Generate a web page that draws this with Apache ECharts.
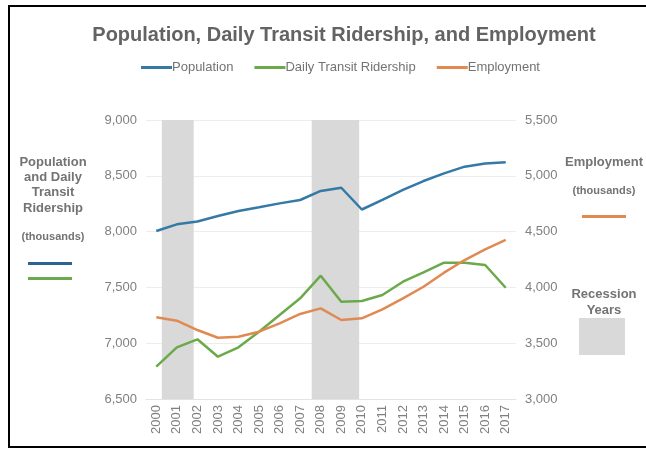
<!DOCTYPE html>
<html>
<head>
<meta charset="utf-8">
<script src="https://cdn.jsdelivr.net/npm/echarts@6/dist/echarts.min.js"></script>
<style>
html,body{margin:0;padding:0;background:#fff;}
#c{width:646px;height:449px;}
</style>
</head>
<body>
<div id="c"></div>
<script>
var years = ['2000','2001','2002','2003','2004','2005','2006','2007','2008','2009','2010','2011','2012','2013','2014','2015','2016','2017'];
var population = [8005, 8065, 8090, 8140, 8185, 8218, 8253, 8283, 8364, 8393, 8198, 8285, 8373, 8453, 8522, 8582, 8611, 8622];
var ridership = [6790, 6963, 7035, 6879, 6963, 7103, 7253, 7402, 7605, 7372, 7378, 7432, 7551, 7635, 7721, 7721, 7701, 7497];
var employment = [3732, 3702, 3618, 3549, 3558, 3603, 3678, 3762, 3812, 3708, 3723, 3803, 3902, 4006, 4132, 4245, 4341, 4425];
var recessionStart = [2000.27, 2007.56];
var recessionEnd = [2001.82, 2009.87];
var leftTicks = [6500, 9000, 500];
var rightTicks = [3000, 5500, 500];

var C_POP = '#3579a6', C_RID = '#6aaa4a', C_EMP = '#e08a52', C_BAND = '#d9d9d9';
var FONT = 'Liberation Sans';
var TXT = '#737373';
var recessions = recessionStart.map(function(s, i){ return [s, recessionEnd[i]]; });

function txt(x, y, s, size, lh){
  return {type: 'text', x: x, y: y, style: {text: s, align: 'center', verticalAlign: 'middle',
    font: 'bold ' + size + 'px "Liberation Sans"', fill: TXT, lineHeight: lh || size + 2}};
}

var chart = echarts.init(document.getElementById('c'));
chart.setOption({
  animation: false,
  textStyle: {fontFamily: FONT},
  title: {
    text: 'Population, Daily Transit Ridership, and Employment',
    left: 339, textAlign: 'center', top: 20,
    textStyle: {fontFamily: FONT, fontSize: 20, fontWeight: 'bold', color: '#636363'}
  },
  legend: {
    top: 56, left: 136,
    itemWidth: 31, itemHeight: 3, itemGap: 21, icon: 'rect',
    textStyle: {fontFamily: FONT, fontSize: 13, color: '#737373', padding: [0,0,0,-5]},
    data: ['Population', 'Daily Transit Ridership', 'Employment']
  },
  grid: {left: 146, right: 130, top: 120, bottom: 50},
  xAxis: [{
    type: 'category', data: years, boundaryGap: true,
    axisLine: {lineStyle: {color: '#e3e3e3'}},
    axisTick: {show: false},
    axisLabel: {rotate: 90, fontSize: 13, color: '#808080', margin: 6, interval: 0}
  }, {
    type: 'value', min: 1999.5, max: 2017.5, show: false
  }],
  yAxis: [{
    type: 'value', min: leftTicks[0], max: leftTicks[1], interval: leftTicks[2],
    axisLine: {show: false}, axisTick: {show: false},
    splitLine: {lineStyle: {color: '#ededed'}},
    axisLabel: {fontSize: 13, color: '#808080', margin: 9,
      formatter: function(v){ return v.toLocaleString('en-US'); }}
  }, {
    type: 'value', min: rightTicks[0], max: rightTicks[1], interval: rightTicks[2],
    axisLine: {show: false}, axisTick: {show: false},
    splitLine: {show: false},
    axisLabel: {fontSize: 13, color: '#808080', margin: 9,
      formatter: function(v){ return v.toLocaleString('en-US'); }}
  }],
  series: [{
    type: 'custom', xAxisIndex: 1, yAxisIndex: 0, silent: true, z: 0,
    data: recessions,
    renderItem: function(params, api){
      var p1 = api.coord([api.value(0), leftTicks[1]]);
      var p2 = api.coord([api.value(1), leftTicks[0]]);
      return {type: 'rect', shape: {x: p1[0], y: p1[1], width: p2[0]-p1[0], height: p2[1]-p1[1]},
        style: {fill: C_BAND}};
    }
  }, {
    name: 'Population', type: 'line', data: population, yAxisIndex: 0,
    symbol: 'none', lineStyle: {width: 2.5, color: C_POP}, itemStyle: {color: C_POP}, z: 3
  }, {
    name: 'Daily Transit Ridership', type: 'line', data: ridership, yAxisIndex: 0,
    symbol: 'none', lineStyle: {width: 2.5, color: C_RID}, itemStyle: {color: C_RID}, z: 3
  }, {
    name: 'Employment', type: 'line', data: employment, yAxisIndex: 1,
    symbol: 'none', lineStyle: {width: 2.5, color: C_EMP}, itemStyle: {color: C_EMP}, z: 3
  }],
  graphic: [
    {type: 'rect', shape: {x: 9, y: 6, width: 700, height: 441}, style: {fill: null, stroke: '#000', lineWidth: 2}, silent: true},
    txt(53, 185, 'Population\nand Daily\nTransit\nRidership', 13, 15.3),
    txt(53, 237, '(thousands)', 11),
    {type: 'rect', shape: {x: 28, y: 262, width: 44, height: 3}, style: {fill: '#2e6290'}},
    {type: 'rect', shape: {x: 28, y: 277, width: 44, height: 3}, style: {fill: C_RID}},
    txt(604, 162, 'Employment', 13),
    txt(604, 191, '(thousands)', 11),
    {type: 'rect', shape: {x: 582, y: 215, width: 44, height: 3}, style: {fill: C_EMP}},
    txt(604, 302, 'Recession\nYears', 13, 16),
    {type: 'rect', shape: {x: 579, y: 318, width: 46, height: 37}, style: {fill: C_BAND}}
  ]
});
</script>
</body>
</html>
